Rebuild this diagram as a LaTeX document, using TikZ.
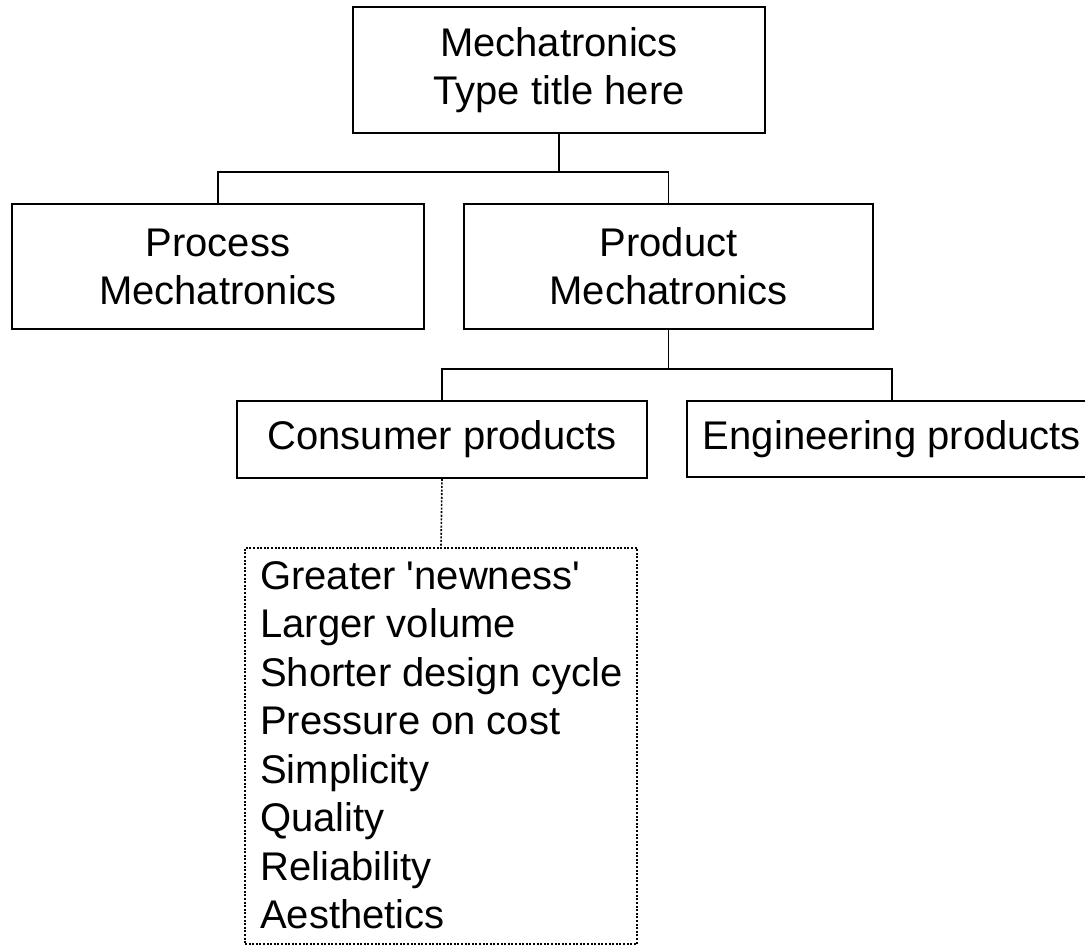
\documentclass[tikz,border=0pt]{standalone}
\usepackage{fontspec}
\setmainfont{Liberation Sans}[Ligatures=TeXOff]
\begin{document}
\begin{tikzpicture}[x=1pt,y=-1pt,
  box/.style={draw=black, line width=1.5pt, fill=white, inner sep=0pt, align=center,
    font=\fontsize{40}{48}\selectfont},
  conn/.style={draw=black, line width=1.5pt},
  dotline/.style={draw=black, line width=1.6pt, dash pattern=on 2pt off 1.6pt},
  listtext/.style={inner sep=0pt, align=left, font=\fontsize{40}{48.5}\selectfont}]
\useasboundingbox (0,0) rectangle (1085,946);
\node[box, minimum width=412pt, minimum height=126pt] (top) at (559,70) {Mechatronics\\Type title here};
\node[box, minimum width=412pt, minimum height=125pt] (process) at (218,266.5) {Process\\Mechatronics};
\node[box, minimum width=409pt, minimum height=125pt] (product) at (668.5,266.5) {Product\\Mechatronics};
\node[box, minimum width=410pt, minimum height=77pt] (consumer) at (442,439.5) {Consumer products};
\node[box, minimum width=410pt, minimum height=76pt] (eng) at (892,439) {Engineering products};
\node[dotline, minimum width=392pt, minimum height=396pt, inner sep=0pt] (list) at (441,746) {};
\node[listtext, anchor=north west] (items) at (260,561)
  {Greater 'newness'\\Larger volume\\Shorter design cycle\\Pressure on cost\\Simplicity\\Quality\\Reliability\\Aesthetics};
\draw[conn] (top.south) -- ++(0,38) coordinate (j1);
\draw[conn] (j1) -| (process.north);
\draw[conn] (j1) -| (product.north);
\draw[conn] (product.south) -- ++(0,39) coordinate (j2);
\draw[conn] (j2) -| (consumer.north);
\draw[conn] (j2) -| (eng.north);
\draw[dotline] (consumer.south) -- (list.north);
\end{tikzpicture}
\end{document}
